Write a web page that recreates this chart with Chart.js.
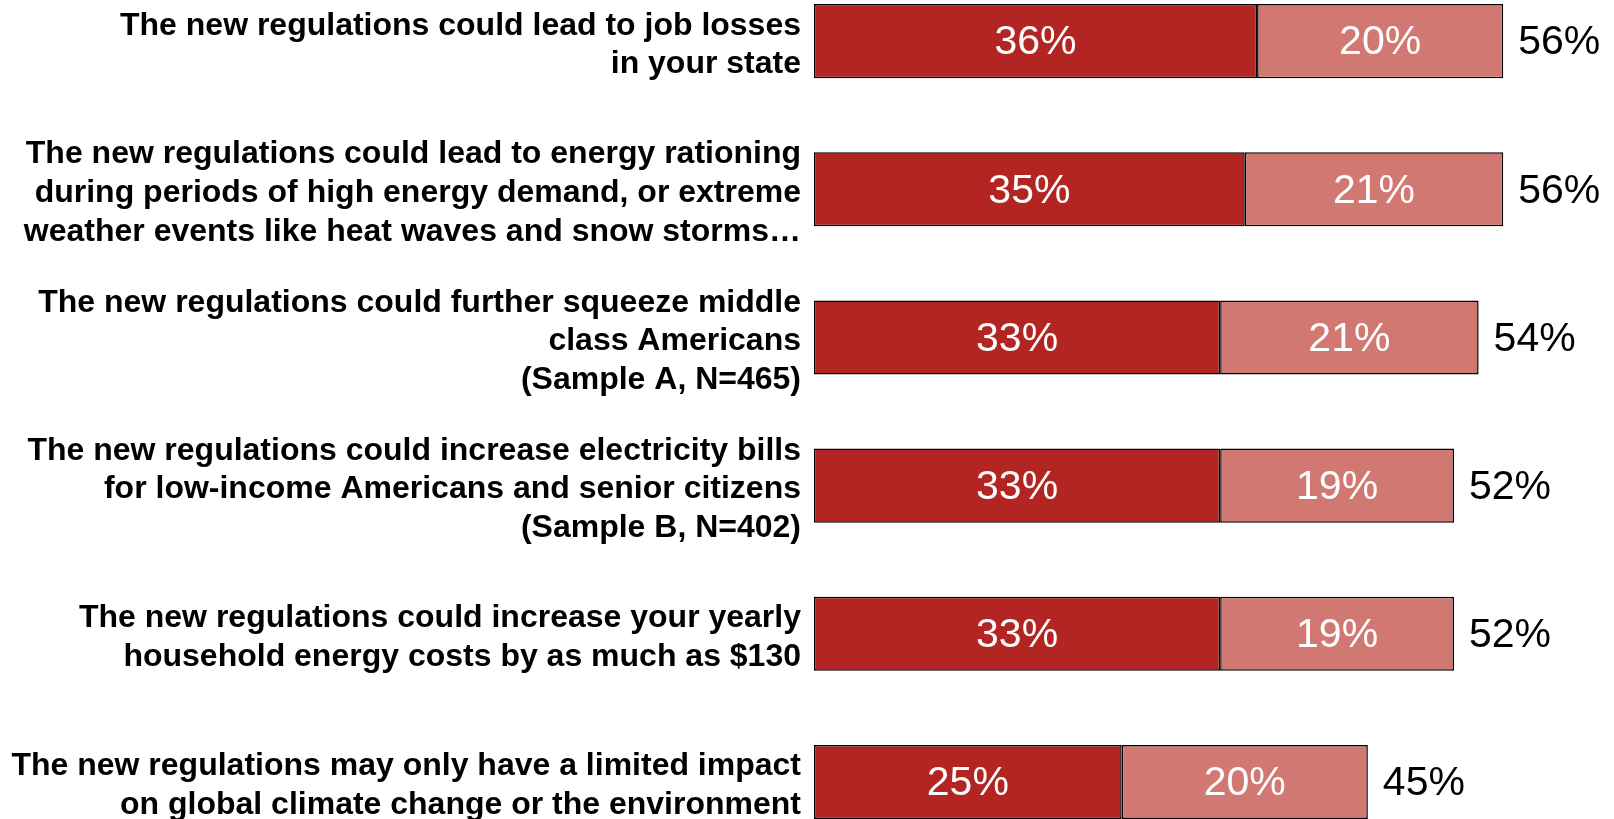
<!DOCTYPE html>
<html lang="en">
<head>
    <meta charset="UTF-8">
    <title>Regulation concerns</title>
    <script src="https://cdn.jsdelivr.net/npm/chart.js"></script>
    <style>
        body {
            margin: 0;
            padding: 0;
            background: #fff;
            overflow: hidden;
            width: 1614px;
            height: 819px;
            position: relative;
        }
        .chart-box {
            position: absolute;
            left: 0;
            top: -33px;
            width: 1614px;
            height: 889px;
        }
    </style>
</head>
<body>
    <div class="chart-box">
        <canvas id="grafico"></canvas>
    </div>

    <script>
        // Statements (one array of lines per bar)
        const categorias = [
            ['The new regulations could lead to job losses', 'in your state'],
            ['The new regulations could lead to energy rationing', 'during periods of high energy demand, or extreme', 'weather events like heat waves and snow storms\u2026'],
            ['The new regulations could further squeeze middle', 'class Americans', '(Sample A, N=465)'],
            ['The new regulations could increase electricity bills', 'for low-income Americans and senior citizens', '(Sample B, N=402)'],
            ['The new regulations could increase your yearly', 'household energy costs by as much as $130'],
            ['The new regulations may only have a limited impact', 'on global climate change or the environment']
        ];

        // Percent values for the two stacked parts
        const parte1 = [36, 35, 33, 33, 33, 25];
        const parte2 = [20, 21, 21, 19, 19, 20];
        // Totals shown to the right of each bar
        const totais = [56, 56, 54, 52, 52, 45];

        const corEscura = '#B32522';
        const corClara = '#D27873';

        // Draws the percentages inside the bars and the totals after them
        const rotulos = {
            id: 'rotulos',
            afterDatasetsDraw(chart) {
                const ctx = chart.ctx;
                ctx.save();
                ctx.font = '41px "Liberation Sans", Arial, sans-serif';
                ctx.textBaseline = 'middle';
                ctx.textAlign = 'center';
                ctx.fillStyle = '#ffffff';
                chart.data.datasets.forEach((ds, i) => {
                    chart.getDatasetMeta(i).data.forEach((bar, j) => {
                        ctx.fillText(ds.data[j] + '%', (bar.x + bar.base) / 2, bar.y + 2);
                    });
                });
                const ultima = chart.getDatasetMeta(chart.data.datasets.length - 1).data;
                ctx.textAlign = 'left';
                ctx.fillStyle = '#000000';
                ultima.forEach((bar, j) => {
                    ctx.fillText(totais[j] + '%', bar.x + 15, bar.y + 2);
                });
                ctx.restore();
            }
        };

        const config = {
            type: 'bar',
            data: {
                labels: categorias,
                datasets: [
                    {
                        label: 'Parte 1',
                        data: parte1,
                        backgroundColor: corEscura,
                        borderColor: '#000000',
                        borderWidth: 1.5,
                        borderSkipped: false
                    },
                    {
                        label: 'Parte 2',
                        data: parte2,
                        backgroundColor: corClara,
                        borderColor: '#000000',
                        borderWidth: 1.5,
                        borderSkipped: false
                    }
                ]
            },
            options: {
                indexAxis: 'y',
                responsive: true,
                maintainAspectRatio: false,
                animation: false,
                layout: { padding: 0 },
                datasets: {
                    bar: {
                        barPercentage: 0.5,
                        categoryPercentage: 1
                    }
                },
                plugins: {
                    legend: { display: false },
                    tooltip: { enabled: false }
                },
                scales: {
                    x: {
                        stacked: true,
                        display: false,
                        min: 0,
                        max: 65
                    },
                    y: {
                        stacked: true,
                        grid: { display: false, drawTicks: false },
                        border: { display: false },
                        afterFit(scale) {
                            scale.width = 814; // bars start at x = 814
                            // labels stay inside their slots, no extra room needed
                            scale.paddingTop = 0;
                            scale.paddingBottom = 0;
                        },
                        ticks: {
                            padding: 13,
                            labelOffset: 4,
                            color: '#000000',
                            font: {
                                family: '"Liberation Sans", Arial, sans-serif',
                                size: 32,
                                weight: 'bold',
                                lineHeight: 1.21
                            }
                        }
                    }
                }
            },
            plugins: [rotulos]
        };

        new Chart(document.getElementById('grafico'), config);
    </script>
</body>
</html>
